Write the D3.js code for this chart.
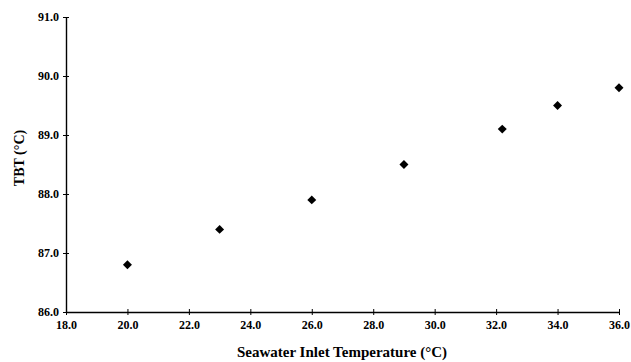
<!DOCTYPE html>
<html>
<head>
<meta charset="utf-8">
<script src="https://cdn.jsdelivr.net/npm/d3@7"></script>
<style>
  body { margin: 0; background: #fff; }
  svg { display: block; }
</style>
</head>
<body>
<div id="grafico"></div>
<script>
// datos
var temperaturaAgua = [20.0, 23.0, 26.0, 29.0, 32.2, 34.0, 36.0];
var tbt = [86.8, 87.4, 87.9, 88.5, 89.1, 89.5, 89.8];
var ticksX = [18, 20, 22, 24, 26, 28, 30, 32, 34, 36];
var ticksY = [86, 87, 88, 89, 90, 91];
var tituloX = 'Seawater Inlet Temperature (\u00B0C)';
var tituloY = 'TBT (\u00B0C)';

var fuente = '"Liberation Serif", "DejaVu Serif", serif';
var ancho = 631, alto = 362;
var svg = d3.select('#grafico').append('svg')
    .attr('width', ancho)
    .attr('height', alto);

// ---------ESCALAS------------
var scale_x = d3.scaleLinear().domain([18, 36]).range([66, 619]);
var scale_y = d3.scaleLinear().domain([86, 91]).range([312, 17]);

// EJE X
var ejeX = svg.append('g')
    .attr('transform', 'translate(0,' + scale_y(86) + ')')
    .call(d3.axisBottom(scale_x).tickValues(ticksX).tickFormat(d3.format('.1f')).tickSizeInner(3).tickSizeOuter(0).tickPadding(5));
ejeX.attr('font-family', fuente).attr('font-size', 12).attr('font-weight', 'bold');
ejeX.select('.domain').attr('stroke-width', 1.4);
ejeX.selectAll('.tick line').attr('y1', -3).attr('stroke-width', 1);

// EJE Y
var ejeY = svg.append('g')
    .attr('transform', 'translate(' + scale_x(18) + ',0)')
    .call(d3.axisLeft(scale_y).tickValues(ticksY).tickFormat(d3.format('.1f')).tickSizeInner(3).tickSizeOuter(0).tickPadding(4));
ejeY.attr('font-family', fuente).attr('font-size', 12).attr('font-weight', 'bold');
ejeY.select('.domain').attr('stroke-width', 1.4);
ejeY.selectAll('.tick line').attr('x1', 3).attr('stroke-width', 1);

// Titulos
svg.append('text')
    .attr('x', 342)
    .attr('y', 357)
    .attr('text-anchor', 'middle')
    .attr('font-family', fuente)
    .attr('font-weight', 'bold')
    .attr('font-size', 15)
    .text(tituloX);

svg.append('text')
    .attr('transform', 'translate(24,158) rotate(-90)')
    .attr('text-anchor', 'middle')
    .attr('font-family', fuente)
    .attr('font-weight', 'bold')
    .attr('font-size', 14)
    .text(tituloY);

// Puntos (rombos)
var rombo = d3.symbol().type(d3.symbolSquare).size(40);
svg.append('g').selectAll('path')
    .data(temperaturaAgua)
    .enter().append('path')
    .attr('d', rombo)
    .attr('transform', function (d, i) {
        return 'translate(' + scale_x(d) + ',' + scale_y(tbt[i]) + ') rotate(45)';
    })
    .attr('fill', '#000');
</script>
</body>
</html>
